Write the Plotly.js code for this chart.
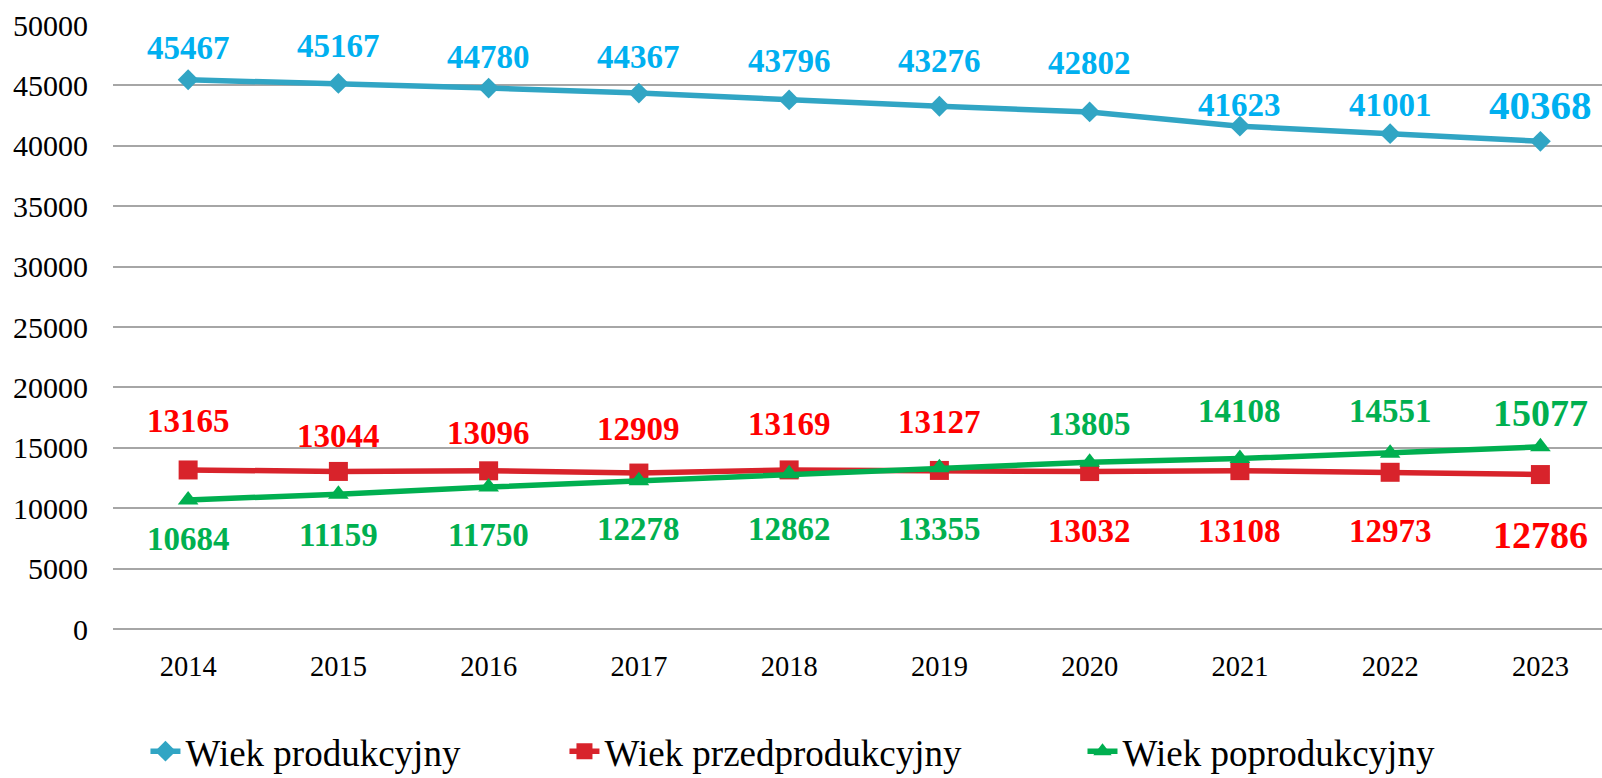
<!DOCTYPE html>
<html>
<head>
<meta charset="utf-8">
<script src="https://cdn.plot.ly/plotly-3.0.1.min.js"></script>
<style>html,body{margin:0;padding:0;background:#fff;}#chart{width:1602px;height:778px;}</style>
</head>
<body>
<div id="chart"></div>
<script>
// ---- data ----
const years = [2014,2015,2016,2017,2018,2019,2020,2021,2022,2023];
const produkcyjny = [45467,45167,44780,44367,43796,43276,42802,41623,41001,40368];
const przedprodukcyjny = [13165,13044,13096,12909,13169,13127,13032,13108,12973,12786];
const poprodukcyjny = [10684,11159,11750,12278,12862,13355,13805,14108,14551,15077];
const seriesNames = ["Wiek produkcyjny","Wiek przedprodukcyjny","Wiek poprodukcyjny"];
const yTicks = [0,5000,10000,15000,20000,25000,30000,35000,40000,45000,50000];

// ---- label styling (pixel offsets of the value labels) ----
const shiftBlue  = [32,37,31,36,39,45,49,21,29,36];
const shiftRed   = [49,35,38,44,46,48,-59,-60,-59,-60];
const shiftGreen = [-39,-41,-48,-48,-55,-61,38,48,42,34];

const FONT = "Liberation Serif, 'Times New Roman', serif";
const colBlue = "#31A5C4", colRed = "#D8232B", colGreen = "#00AF50";
const labBlue = "#00B0F0", labRed = "#FF0000", labGreen = "#00B050";

const traces = [
  {x: years, y: produkcyjny, name: seriesNames[0], type: "scatter", mode: "lines+markers", legend: "legend",
   line: {color: colBlue, width: 5.5}, marker: {symbol: "diamond", size: 16, color: colBlue}},
  {x: years, y: przedprodukcyjny, name: seriesNames[1], type: "scatter", mode: "lines+markers", legend: "legend2",
   line: {color: colRed, width: 5.5}, marker: {symbol: "square", size: 19, color: colRed}},
  {x: years, y: poprodukcyjny, name: seriesNames[2], type: "scatter", mode: "lines+markers", legend: "legend3",
   line: {color: colGreen, width: 5.5}, marker: {symbol: "triangle-up", size: 18, color: colGreen}}
];

function labels(vals, shifts, color, lastSize) {
  return vals.map((v, i) => ({
    x: years[i], y: v, text: String(v), showarrow: false,
    yshift: shifts[i], xanchor: "center", yanchor: "middle",
    font: {family: FONT, size: i === vals.length - 1 ? lastSize : 33, color: color, weight: "bold"}
  }));
}
const annotations = [].concat(
  labels(produkcyjny, shiftBlue, labBlue, 41),
  labels(przedprodukcyjny, shiftRed, labRed, 38),
  labels(poprodukcyjny, shiftGreen, labGreen, 38)
);

function legendAt(x) {
  return {
    orientation: "h", x: x, xanchor: "left", y: -0.203, yanchor: "middle",
    font: {family: FONT, size: 37, color: "#000"},
    bgcolor: "rgba(0,0,0,0)", itemwidth: 30
  };
}

const layout = {
  width: 1602, height: 778,
  margin: {l: 113, r: 0, t: 25, b: 149, autoexpand: false},
  paper_bgcolor: "#fff", plot_bgcolor: "#fff",
  showlegend: true,
  font: {family: FONT, color: "#000"},
  xaxis: {
    type: "linear", range: [2013.5, 2023.41], tickvals: years, ticktext: years.map(String),
    showgrid: false, showline: false, zeroline: false,
    ticks: "", tickfont: {family: FONT, size: 28.5, color: "#000"},
    ticklabelstandoff: 17
  },
  yaxis: {
    range: [0, 50000], tickvals: yTicks, ticktext: yTicks.map(String),
    showgrid: true, gridcolor: "#A6A6A6", gridwidth: 2,
    zeroline: true, zerolinecolor: "#A6A6A6", zerolinewidth: 2,
    showline: false, ticks: "",
    tickfont: {family: FONT, size: 30, color: "#000"},
    ticklabelstandoff: 24
  },
  legend: legendAt(0.0218),
  legend2: legendAt(0.3032),
  legend3: legendAt(0.6511),
  annotations: annotations
};

Plotly.newPlot("chart", traces, layout, {displayModeBar: false, staticPlot: true});
</script>
</body>
</html>
